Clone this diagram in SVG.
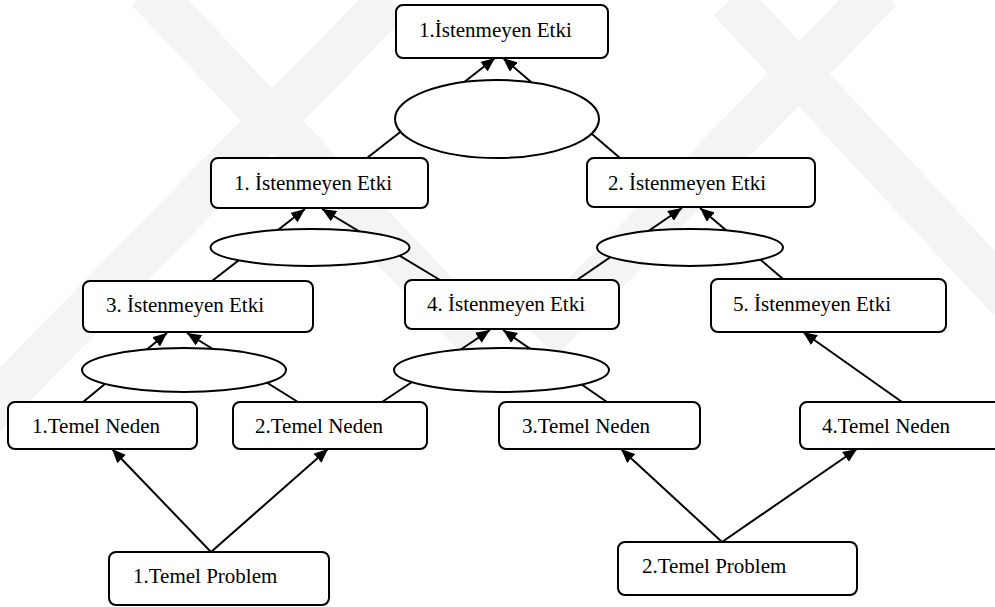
<svg xmlns="http://www.w3.org/2000/svg" width="995" height="607" viewBox="0 0 995 607">
  <style>
    .box { fill: #ffffff; stroke: #000000; stroke-width: 2; }
    .gate { fill: #ffffff; stroke: #000000; stroke-width: 2; }
    .lbl { font-family: "Liberation Serif", "Times New Roman", serif; font-size: 21px; fill: #000000; }
    .edge { stroke: #000000; stroke-width: 2; fill: none; }
    .band { stroke: #f4f4f4; fill: none; stroke-linecap: butt; }
  </style>
  <defs>
    <marker id="arrow" markerUnits="userSpaceOnUse" markerWidth="14" markerHeight="12" refX="14" refY="6" orient="auto">
      <path d="M0,0 L14,6 L0,12 z" fill="#000000"/>
    </marker>
  </defs>

  <rect x="0" y="0" width="995" height="607" fill="#ffffff"/>

  <!-- faint background emblem -->
  <g id="emblem">
    <line class="band" x1="148" y1="-10" x2="480" y2="340" stroke-width="45"/>
    <line class="band" x1="880" y1="-10" x2="540" y2="340" stroke-width="45"/>
    <line class="band" x1="390" y1="0" x2="-20" y2="420" stroke-width="45"/>
    <line class="band" x1="730" y1="0" x2="1010" y2="300" stroke-width="45"/>
  </g>

  <!-- connectors -->
  <g id="connectors">
    <line class="edge" x1="367" y1="158" x2="495" y2="58" marker-end="url(#arrow)"/>
    <line class="edge" x1="620" y1="158" x2="503" y2="58" marker-end="url(#arrow)"/>
    <line class="edge" x1="212" y1="281" x2="305" y2="209" marker-end="url(#arrow)"/>
    <line class="edge" x1="440" y1="280" x2="322" y2="209" marker-end="url(#arrow)"/>
    <line class="edge" x1="577" y1="280" x2="682" y2="208" marker-end="url(#arrow)"/>
    <line class="edge" x1="783" y1="279" x2="700" y2="208" marker-end="url(#arrow)"/>
    <line class="edge" x1="83" y1="402" x2="167" y2="333" marker-end="url(#arrow)"/>
    <line class="edge" x1="298" y1="402" x2="187" y2="333" marker-end="url(#arrow)"/>
    <line class="edge" x1="382" y1="402" x2="490" y2="330" marker-end="url(#arrow)"/>
    <line class="edge" x1="607" y1="402" x2="503" y2="330" marker-end="url(#arrow)"/>
    <line class="edge" x1="902" y1="402" x2="803" y2="332" marker-end="url(#arrow)"/>
    <line class="edge" x1="211" y1="552" x2="112" y2="449" marker-end="url(#arrow)"/>
    <line class="edge" x1="211" y1="552" x2="328" y2="449" marker-end="url(#arrow)"/>
    <line class="edge" x1="722" y1="542" x2="621" y2="449" marker-end="url(#arrow)"/>
    <line class="edge" x1="722" y1="542" x2="857" y2="449" marker-end="url(#arrow)"/>
  </g>

  <!-- AND gates -->
  <g id="gate-1"><ellipse class="gate" cx="497" cy="119" rx="102" ry="39"/></g>
  <g id="gate-2"><ellipse class="gate" cx="310" cy="247.5" rx="99.5" ry="18.5"/></g>
  <g id="gate-3"><ellipse class="gate" cx="690" cy="247.5" rx="93" ry="18.5"/></g>
  <g id="gate-4"><ellipse class="gate" cx="184" cy="370" rx="102" ry="22"/></g>
  <g id="gate-5"><ellipse class="gate" cx="501.5" cy="370" rx="107.5" ry="22"/></g>

  <!-- nodes -->
  <g id="top-effect">
    <rect class="box" x="396" y="5" width="212" height="53" rx="7"/>
    <text class="lbl" x="419" y="37">1.İstenmeyen Etki</text>
  </g>
  <g id="effect-1">
    <rect class="box" x="211" y="158" width="217" height="50" rx="7"/>
    <text class="lbl" x="234" y="190">1. İstenmeyen Etki</text>
  </g>
  <g id="effect-2">
    <rect class="box" x="587" y="158" width="228" height="49" rx="7"/>
    <text class="lbl" x="608" y="190">2. İstenmeyen Etki</text>
  </g>
  <g id="effect-3">
    <rect class="box" x="83" y="281" width="230" height="51" rx="7"/>
    <text class="lbl" x="106" y="312">3. İstenmeyen Etki</text>
  </g>
  <g id="effect-4">
    <rect class="box" x="405" y="280" width="214" height="49" rx="7"/>
    <text class="lbl" x="427" y="311">4. İstenmeyen Etki</text>
  </g>
  <g id="effect-5">
    <rect class="box" x="711" y="279" width="235" height="53" rx="7"/>
    <text class="lbl" x="733" y="311">5. İstenmeyen Etki</text>
  </g>
  <g id="cause-1">
    <rect class="box" x="8" y="402" width="189" height="47" rx="7"/>
    <text class="lbl" x="32" y="433">1.Temel Neden</text>
  </g>
  <g id="cause-2">
    <rect class="box" x="233" y="402" width="194" height="47" rx="7"/>
    <text class="lbl" x="255" y="433">2.Temel Neden</text>
  </g>
  <g id="cause-3">
    <rect class="box" x="499" y="402" width="201" height="47" rx="7"/>
    <text class="lbl" x="522" y="433">3.Temel Neden</text>
  </g>
  <g id="cause-4">
    <rect class="box" x="800" y="402" width="210" height="47" rx="7"/>
    <text class="lbl" x="822" y="433">4.Temel Neden</text>
  </g>
  <g id="problem-1">
    <rect class="box" x="109" y="552" width="220" height="53" rx="7"/>
    <text class="lbl" x="133" y="583">1.Temel Problem</text>
  </g>
  <g id="problem-2">
    <rect class="box" x="618" y="542" width="239" height="53" rx="7"/>
    <text class="lbl" x="642" y="573">2.Temel Problem</text>
  </g>
</svg>
